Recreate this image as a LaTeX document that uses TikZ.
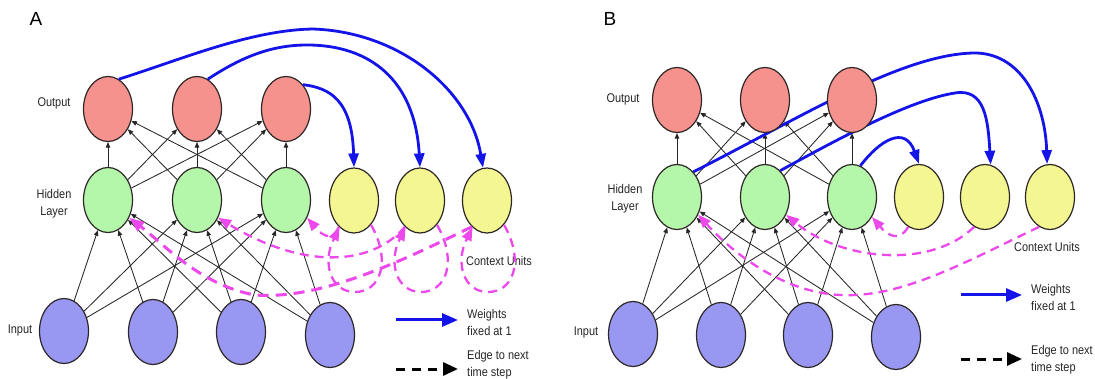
\documentclass[tikz,border=0pt]{standalone}
\usepackage{fontspec}
\setmainfont{Liberation Sans}
\newfontfamily\narrowsans[FakeStretch=0.87]{Liberation Sans}
\usetikzlibrary{shapes.geometric,arrows.meta,backgrounds}
\definecolor{outc}{RGB}{245,146,142}
\definecolor{hidc}{RGB}{180,246,170}
\definecolor{ctxc}{RGB}{243,246,145}
\definecolor{inc}{RGB}{152,152,242}
\definecolor{bluec}{RGB}{20,20,232}
\definecolor{magc}{RGB}{236,72,236}
\definecolor{edgec}{RGB}{45,38,38}
\begin{document}
\begin{tikzpicture}[x=1pt,y=-1pt,
  neuron/.style={ellipse, draw=edgec, line width=1.2pt, minimum width=49pt, minimum height=65pt, inner sep=0pt},
  lbl/.style={font=\narrowsans\fontsize{12.6}{17}\selectfont, text=black!85, align=center, inner sep=0pt},
  panel/.style={font=\fontsize{19}{19}\selectfont, text=black, inner sep=0pt},
  conn/.style={draw=black!85, line width=0.85pt, -{Triangle[length=5.5pt,width=4.5pt]}},
  fixedw/.style={draw=bluec, line width=2.8pt, -{Triangle[length=14pt,width=10pt]}},
  nextstep/.style={draw=magc, line width=2.3pt, dash pattern=on 9pt off 6pt, -{Triangle[length=13pt,width=10pt]}},
  nextbig/.style={draw=magc, line width=3pt, dash pattern=on 11pt off 7pt, -{Triangle[length=15pt,width=11pt]}},
  legblue/.style={draw=bluec, line width=3pt, -{Triangle[length=16pt,width=13pt]}},
  legdash/.style={draw=black, line width=3pt, dash pattern=on 9pt off 7pt, -{Triangle[length=15pt,width=13pt]}}
]
\useasboundingbox (0,0) rectangle (1095,379);

% ================= Panel A =================
\node[panel] (pa) at (36,19) {A};
\node[neuron,fill=outc] (ao1) at (108,109) {};
\node[neuron,fill=outc] (ao2) at (197,109) {};
\node[neuron,fill=outc] (ao3) at (286,109) {};
\node[neuron,fill=hidc] (ah1) at (108,200) {};
\node[neuron,fill=hidc] (ah2) at (197,200) {};
\node[neuron,fill=hidc] (ah3) at (286,200) {};
\node[neuron,fill=ctxc] (ac1) at (354,200.5) {};
\node[neuron,fill=ctxc] (ac2) at (420,200.5) {};
\node[neuron,fill=ctxc] (ac3) at (487,200.5) {};
\node[neuron,fill=inc] (ai1) at (64,331) {};
\node[neuron,fill=inc] (ai2) at (153,332) {};
\node[neuron,fill=inc] (ai3) at (241,332) {};
\node[neuron,fill=inc] (ai4) at (330,335) {};

\node[lbl] (alo) at (54,103) {Output};
\node[lbl] (alh) at (54,204) {Hidden\\Layer};
\node[lbl] (ali) at (20,330) {Input};
\node[lbl] (alc) at (499,261) {Context Units};

\begin{scope}[on background layer]
\foreach \i in {1,...,4} \foreach \j in {1,2,3} \draw[conn] (ai\i) -- (ah\j);
\foreach \i in {1,2,3} \foreach \j in {1,2,3} \draw[conn] (ah\i) -- (ao\j);
\end{scope}

\draw[fixedw] (ao1.70) .. controls (180,60) and (250,30) .. (313,29) .. controls (400,32) and (470,90) .. (ac3.97);
\draw[fixedw] (ao2.70) .. controls (240,58) and (270,45) .. (307,45) .. controls (370,45) and (415,80) .. (ac2.north);
\draw[fixedw] (ao3.55) .. controls (330,88) and (352,100) .. (ac1.north);

\draw[nextbig] (ac3.240) .. controls (400,262) and (320,300) .. (255,295) .. controls (200,285) and (165,245) .. (ah1.-40);
\draw[nextstep] (ac2.240) .. controls (370,268) and (300,268) .. (ah2.-40);
\draw[nextstep] (ac1.240) .. controls +(-8,18) and +(12,14) .. (ah3.-40);
\draw[nextstep] (ac1.-55) .. controls (392,262) and (380,292) .. (355,292) .. controls (330,292) and (322,262) .. (ac1.-118);
\draw[nextstep] (ac2.-55) .. controls (458,262) and (446,292) .. (421,292) .. controls (396,292) and (388,262) .. (ac2.-118);
\draw[nextstep] (ac3.-55) .. controls (525,262) and (513,292) .. (488,292) .. controls (463,292) and (455,262) .. (ac3.-118);

\coordinate (alb1) at (396,320); \coordinate (alb2) at (458,320);
\draw[legblue] (alb1) -- (alb2);
\node[lbl, anchor=west, align=left] (alw) at (467,322) {Weights\\fixed at 1};
\coordinate (ald1) at (396,369); \coordinate (ald2) at (458,369);
\draw[legdash] (ald1) -- (ald2);
\node[lbl, anchor=west, align=left] (ale) at (467,365) {Edge to next\\time step};

% ================= Panel B =================
\node[panel] (pb) at (610,19) {B};
\node[neuron,fill=outc] (bo1) at (677,100) {};
\node[neuron,fill=outc] (bo2) at (765,100) {};
\node[neuron,fill=outc] (bo3) at (852,100) {};
\node[neuron,fill=hidc] (bh1) at (677,197) {};
\node[neuron,fill=hidc] (bh2) at (765,197) {};
\node[neuron,fill=hidc] (bh3) at (852,197) {};
\node[neuron,fill=ctxc] (bc1) at (919,197) {};
\node[neuron,fill=ctxc] (bc2) at (985,197) {};
\node[neuron,fill=ctxc] (bc3) at (1050,197) {};
\node[neuron,fill=inc] (bi1) at (633,334) {};
\node[neuron,fill=inc] (bi2) at (721,335) {};
\node[neuron,fill=inc] (bi3) at (808,335) {};
\node[neuron,fill=inc] (bi4) at (896,337) {};

\node[lbl] (blo) at (623,99) {Output};
\node[lbl] (blh) at (625,199) {Hidden\\Layer};
\node[lbl] (bli) at (586,332) {Input};
\node[lbl] (blc) at (1047,247) {Context Units};

\begin{scope}[on background layer]
\foreach \i in {1,...,4} \foreach \j in {1,2,3} \draw[conn] (bi\i) -- (bh\j);
\foreach \i in {1,2,3} \foreach \j in {1,2,3} \draw[conn] (bh\i) -- (bo\j);
\draw[fixedw] (bh1.57) .. controls (800,118) and (900,55) .. (973,53) .. controls (1020,52) and (1045,100) .. (bc3.95);
\draw[fixedw] (bh2.60) .. controls (840,138) and (910,100) .. (955,93) .. controls (985,88) and (988,120) .. (bc2.80);
\draw[fixedw] (bh3.75) .. controls (880,140) and (905,125) .. (bc1.north);
\end{scope}

\draw[nextstep] (bc1.250) .. controls (900,242) and (888,236) .. (bh3.-45);
\draw[nextstep] (bc2.250) .. controls (930,270) and (840,260) .. (bh2.-40);
\draw[nextstep] (bc3.250) .. controls (960,265) and (900,298) .. (840,295) .. controls (780,292) and (730,250) .. (bh1.-40);

\coordinate (blb1) at (961,295); \coordinate (blb2) at (1022,295);
\draw[legblue] (blb1) -- (blb2);
\node[lbl, anchor=west, align=left] (blw) at (1031,297) {Weights\\fixed at 1};
\coordinate (bld1) at (961,359); \coordinate (bld2) at (1022,359);
\draw[legdash] (bld1) -- (bld2);
\node[lbl, anchor=west, align=left] (ble) at (1031,360) {Edge to next\\time step};
\end{tikzpicture}
\end{document}
